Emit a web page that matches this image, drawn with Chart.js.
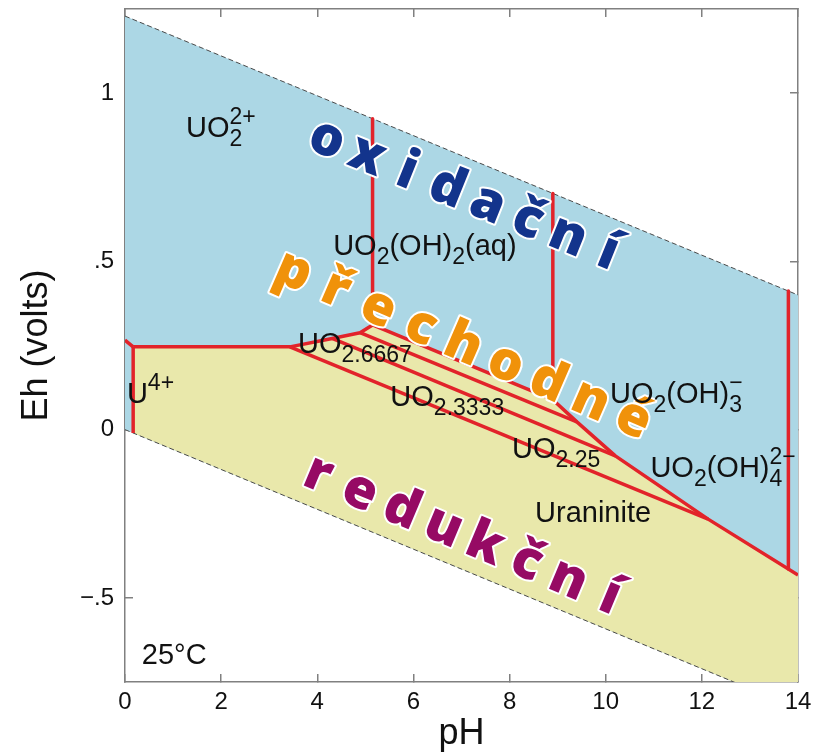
<!DOCTYPE html>
<html>
<head>
<meta charset="utf-8">
<title>Eh-pH uran</title>
<script src="https://cdn.jsdelivr.net/npm/chart.js@4.4.1/dist/chart.umd.min.js"></script>
<style>
body { margin: 0; background: #fff; }
</style>
</head>
<body>
<canvas id="eh_ph_chart" width="818" height="756"></canvas>
<script>
// axis ticks
var x_ticks = [0, 2, 4, 6, 8, 10, 12, 14];
var y_ticks = [-0.5, 0, 0.5, 1];

// water stability limits, [pH, Eh]
var water_top = [[0, 1.229], [14, 0.400]];
var water_bottom = [[0, 0], [14, -0.829]];

// field boundaries, [pH, Eh]
var u4_uo2 = [[0, 0.266], [0.17, 0.246]];
var u4_uraninite = [[0.17, -0.010], [0.17, 0.246]];
var solid_top_left = [[0.17, 0.246], [3.43, 0.246], [4.31, 0.271], [4.89, 0.288], [5.15, 0.311]];
var solid_top_right = [[5.15, 0.311], [8.90, 0.089], [9.40, 0.023], [10.20, -0.078], [12.13, -0.266], [14, -0.432]];
var uo2_uo2oh2 = [[5.15, 0.924], [5.15, 0.311]];
var uo2oh2_uo2oh3 = [[8.90, 0.702], [8.90, 0.089]];
var uo2oh3_uo2oh4 = [[13.80, 0.412], [13.80, -0.414]];
var uraninite_uo225 = [[3.43, 0.246], [12.13, -0.266]];
var uo225_uo23333 = [[4.31, 0.271], [10.20, -0.078]];
var uo23333_uo26667 = [[4.89, 0.288], [9.40, 0.023]];

// field names, [markup, pH, Eh] (left end of the baseline)
var field_labels = [
    ["UO_{2}^{2+}", 1.27, 0.869],
    ["UO_{2}(OH)_{2}(aq)", 4.33, 0.519],
    ["UO_{2.6667}", 3.60, 0.228],
    ["UO_{2.3333}", 5.52, 0.071],
    ["UO_{2.25}", 8.05, -0.083],
    ["UO_{2}(OH)_{3}^{−}", 10.09, 0.080],
    ["UO_{2}(OH)_{4}^{2−}", 10.93, -0.142],
    ["U^{4+}", 0.04, 0.080],
    ["Uraninite", 8.53, -0.276],
    ["25°C", 0.35, -0.697]
];

// big zone words, first and last letter centre in [pH, Eh]
var zone_words = [
    {text: "oxidační", from: [4.20, 0.861], to: [10.05, 0.525], color: "#13348c"},
    {text: "přechodné", from: [3.50, 0.469], to: [10.57, 0.030], color: "#f0920a"},
    {text: "redukční", from: [4.02, -0.134], to: [10.09, -0.499], color: "#960a64"}
];

var RED = "#e2232a";
var AXIS = "#808080";
var MAIN_FONT = "29px 'Liberation Sans', Arial, sans-serif";
var SMALL_FONT = "23px 'Liberation Sans', Arial, sans-serif";

Chart.defaults.font.family = "'Liberation Sans', Arial, sans-serif";

function to_points(arr){
    return arr.map(function(p){ return {x: p[0], y: p[1]}; });
}

// draws "UO_{2}^{2+}" style markup, a sup right after a sub is stacked over it
function draw_rich(ctx, markup, x, y){
    var parts = markup.match(/_\{[^}]*\}|\^\{[^}]*\}|[^_^]+/g);
    var sub_x = null;
    parts.forEach(function(p){
        var s, w;
        if(p[0] === "_"){
            s = p.slice(2, -1);
            ctx.font = SMALL_FONT;
            ctx.fillText(s, x, y + 9);
            sub_x = x;
            x += ctx.measureText(s).width;
        } else if(p[0] === "^"){
            s = p.slice(2, -1);
            ctx.font = SMALL_FONT;
            w = ctx.measureText(s).width;
            if(sub_x !== null){
                ctx.fillText(s, sub_x, y - 13);
                x = Math.max(x, sub_x + w);
            } else {
                ctx.fillText(s, x, y - 13);
                x += w;
            }
            sub_x = null;
        } else {
            ctx.font = MAIN_FONT;
            ctx.fillText(p, x, y);
            x += ctx.measureText(p).width;
            sub_x = null;
        }
    });
}

var label_plugin = {
    id: "field_labels",
    afterDatasetsDraw: function(chart){
        var ctx = chart.ctx;
        var xs = chart.scales.x, ys = chart.scales.y;
        ctx.save();

        // zone words, letter by letter along a line
        zone_words.forEach(function(word){
            var x0 = xs.getPixelForValue(word.from[0]), y0 = ys.getPixelForValue(word.from[1]);
            var x1 = xs.getPixelForValue(word.to[0]), y1 = ys.getPixelForValue(word.to[1]);
            var letters = Array.from(word.text);
            var angle = Math.atan2(y1 - y0, x1 - x0);
            ctx.font = "800 54px 'Open Sans', sans-serif";
            ctx.textAlign = "center";
            ctx.textBaseline = "middle";
            ctx.lineJoin = "round";
            ctx.lineWidth = 4;
            ctx.strokeStyle = "#ffffff";
            ctx.fillStyle = word.color;
            letters.forEach(function(ch, i){
                var t = i / (letters.length - 1);
                ctx.save();
                ctx.translate(x0 + (x1 - x0) * t, y0 + (y1 - y0) * t);
                ctx.rotate(angle);
                ctx.strokeText(ch, 0, 0);
                ctx.fillText(ch, 0, 0);
                ctx.restore();
            });
        });

        // species names
        ctx.textAlign = "left";
        ctx.textBaseline = "alphabetic";
        ctx.fillStyle = "#111111";
        field_labels.forEach(function(l){
            draw_rich(ctx, l[0], xs.getPixelForValue(l[1]), ys.getPixelForValue(l[2]));
        });
        ctx.restore();
    }
};

//////////////////////////////////////////////////
// datasets
//////////////////////////////////////////////////
var datasets = [];
[u4_uo2, u4_uraninite, solid_top_left, uo2_uo2oh2, solid_top_right, uo2oh2_uo2oh3,
 uo2oh3_uo2oh4, uraninite_uo225, uo225_uo23333, uo23333_uo26667].forEach(function(b){
    datasets.push({data: to_points(b), borderColor: RED, borderWidth: 3.5, borderJoinStyle: "round",
                   pointRadius: 0, fill: false, order: 0});
});
[water_top, water_bottom].forEach(function(w){
    datasets.push({data: to_points(w), borderColor: "#4a4a4a", borderWidth: 1, borderDash: [5, 3],
                   pointRadius: 0, fill: false, order: 1});
});
// minerals field
var yellow_shape = u4_uraninite.concat(solid_top_left.slice(1), solid_top_right.slice(1), [water_bottom[1]]);
datasets.push({data: to_points(yellow_shape), borderColor: "rgba(0,0,0,0)", borderWidth: 0,
               backgroundColor: "#e9e8ab", pointRadius: 0, fill: "shape", order: 2});
// aqueous field, whole water stability area
var blue_shape = water_top.concat(water_bottom.slice().reverse());
datasets.push({data: to_points(blue_shape), borderColor: "rgba(0,0,0,0)", borderWidth: 0,
               backgroundColor: "#acd7e5", pointRadius: 0, fill: "shape", order: 3});

function set_ticks(list){
    return function(scale){ scale.ticks = list.map(function(v){ return {value: v}; }); };
}
// fixed box size, and no extra room asked for the end labels
function fix_size(prop, size){
    return function(s){
        s[prop] = size;
        s.paddingTop = 0; s.paddingBottom = 0; s.paddingLeft = 0; s.paddingRight = 0;
    };
}
function eh_label(v){
    if(v === 0) return "0";
    return (v < 0 ? "−" : "") + String(Math.abs(v)).replace(/^0/, "");
}
var axis_grid = {drawOnChartArea: false, drawTicks: true, tickLength: -8, color: AXIS, lineWidth: 1.5};
var axis_border = {display: true, color: AXIS, width: 1.5};

new Chart(document.getElementById("eh_ph_chart"), {
    type: "line",
    data: {datasets: datasets},
    plugins: [label_plugin],
    options: {
        responsive: false,
        animation: false,
        layout: {padding: 0},
        plugins: {legend: {display: false}, tooltip: {enabled: false}},
        scales: {
            x: {
                type: "linear", position: "bottom", min: 0, max: 14, z: 1,
                afterBuildTicks: set_ticks(x_ticks),
                afterFit: fix_size("height", 74),
                grid: axis_grid, border: axis_border,
                ticks: {color: "#111", font: {size: 24}, padding: 14, maxRotation: 0},
                title: {display: true, text: "pH", color: "#111", font: {size: 36}, padding: {top: 0, bottom: 0}}
            },
            y: {
                type: "linear", position: "left", min: -0.75, max: 1.25, z: 1,
                afterBuildTicks: set_ticks(y_ticks),
                afterFit: fix_size("width", 125),
                grid: axis_grid, border: axis_border,
                ticks: {color: "#111", font: {size: 24}, padding: 19, callback: eh_label},
                title: {display: true, text: "Eh (volts)", color: "#111", font: {size: 36}, padding: {top: 15, bottom: 0}}
            },
            x2: {
                type: "linear", position: "top", min: 0, max: 14, z: 1,
                afterBuildTicks: set_ticks(x_ticks),
                afterFit: fix_size("height", 9),
                grid: axis_grid, border: axis_border,
                ticks: {display: false}
            },
            y2: {
                type: "linear", position: "right", min: -0.75, max: 1.25, z: 1,
                afterBuildTicks: set_ticks(y_ticks),
                afterFit: fix_size("width", 20),
                grid: axis_grid, border: axis_border,
                ticks: {display: false}
            }
        }
    }
});
</script>
</body>
</html>
